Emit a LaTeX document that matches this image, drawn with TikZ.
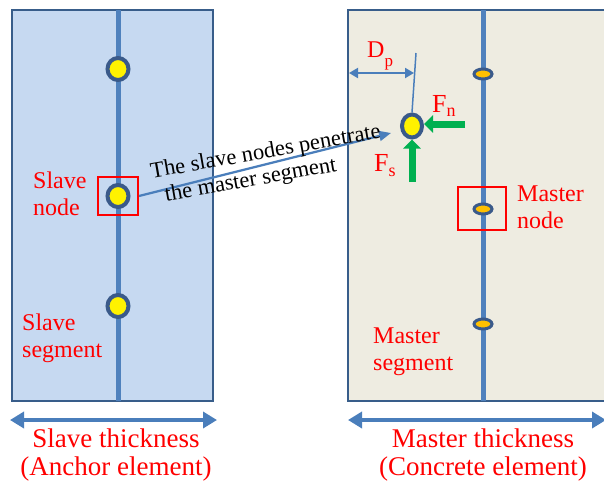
\documentclass[tikz,border=0pt]{standalone}
\usepackage{fontspec}
\setmainfont{Liberation Serif}
\usetikzlibrary{arrows.meta,calc,shapes.geometric}
\definecolor{slavefill}{HTML}{C6D9F1}
\definecolor{masterfill}{HTML}{EEECE1}
\definecolor{border}{HTML}{385D8A}
\definecolor{spinec}{HTML}{4F81BD}
\definecolor{arrowblue}{HTML}{4A7EBB}
\definecolor{nodering}{HTML}{3A5A8A}
\definecolor{orangefill}{HTML}{FFC000}
\definecolor{greenc}{HTML}{00B050}
\begin{document}
\begin{tikzpicture}[x=1pt,y=-1pt,
  panel/.style={draw=border,line width=2pt,inner sep=0pt,outer sep=0pt,anchor=north west},
  spine/.style={draw=spinec,line width=5pt},
  snode/.style={ellipse,draw=nodering,fill=yellow,line width=4pt,minimum width=21pt,minimum height=22pt,inner sep=0pt},
  mnode/.style={ellipse,draw=nodering,fill=orangefill,line width=3pt,minimum width=18pt,minimum height=10pt,inner sep=0pt},
  redbox/.style={draw=red,line width=2pt,inner sep=0pt,fill=none},
  lbl/.style={text=red,font=\fontsize{24}{27}\selectfont,align=left,anchor=base west,inner sep=0pt},
  biglbl/.style={text=red,font=\fontsize{27}{28}\selectfont,align=center,anchor=base,inner sep=0pt},
  dimarrow/.style={draw=arrowblue,line width=4pt,{Triangle[length=14pt,width=16pt]}-{Triangle[length=14pt,width=16pt]}},
  garrow/.style={draw=greenc,line width=7pt,-{Triangle[length=9pt,width=17pt]}},
]
\useasboundingbox (0,0) rectangle (604,485);
\clip (0,0) rectangle (604,485);
% panels
\node[panel,fill=slavefill,minimum width=201pt,minimum height=391pt] (slave) at (12,10) {};
\node[panel,fill=masterfill,minimum width=262pt,minimum height=391pt] (master) at (348,10) {};
\draw[spine] (118,10) -- (118,401);
\draw[spine] (483,10) -- (483,401);
% slave nodes
\node[snode] (s1) at (118,69) {};
\node[snode] (s2) at (118,196) {};
\node[snode] (s3) at (118,306) {};
\node[redbox,minimum width=40pt,minimum height=38pt] (sbox) at (118,196) {};
% master nodes
\node[mnode] (m1) at (483,74) {};
\node[mnode] (m2) at (483,209) {};
\node[mnode] (m3) at (483,324) {};
\node[redbox,minimum width=48pt,minimum height=43pt] (mbox) at (482,208.5) {};
% penetrating node
\node[snode,minimum width=20pt,minimum height=23pt] (pen) at (412,126) {};
\coordinate (dptop) at (416,53);
\draw[draw=arrowblue,line width=1.5pt] (dptop) -- (pen.north);
\coordinate (dpl) at (349,73);
\coordinate (dpr) at (414,73);
\draw[draw=arrowblue,line width=2pt,{Triangle[length=9pt,width=10pt]}-{Triangle[length=9pt,width=10pt]}] (dpl) -- (dpr);
\node[text=red,font=\fontsize{24}{24}\selectfont,anchor=base west,inner sep=0pt] (dp) at (367,57) {D\raisebox{-9pt}{\fontsize{17}{17}\selectfont p}};
% forces
\coordinate (fnstart) at (465,124);
\draw[garrow] (fnstart) -- (fnstart -| pen.east);
\coordinate (fsstart) at (412,182);
\draw[garrow] (fsstart) -- (pen.south);
\node[text=red,font=\fontsize{26}{26}\selectfont,anchor=base west,inner sep=0pt] (fn) at (432,112) {F\raisebox{-4pt}{\fontsize{18}{18}\selectfont n}};
\node[text=red,font=\fontsize{26}{26}\selectfont,anchor=base west,inner sep=0pt] (fs) at (374,171) {F\raisebox{-5pt}{\fontsize{18}{18}\selectfont s}};
% connector
\coordinate (ctip) at (391,133);
\draw[draw=arrowblue,line width=2.2pt,-{Triangle[length=12pt,width=10pt]}] (sbox.east) -- (ctip);
\node[font=\fontsize{22.5}{25}\selectfont,align=left,anchor=base west,inner sep=0pt,rotate=10] (ctext) at (156,203) {The slave nodes penetrate\\\hspace{0.45em}the master segment};
% labels
\node[lbl] (slavenode) at (33,215) {Slave\\node};
\node[lbl] (slaveseg) at (22,357) {Slave\\segment};
\node[lbl] (masternode) at (517,228) {Master\\node};
\node[lbl] (masterseg) at (373,370) {Master\\segment};
% thickness arrows
\coordinate (sl) at (10,420);
\coordinate (sr) at (217,420);
\draw[dimarrow] (sl) -- (sr);
\coordinate (ml) at (348,420);
\coordinate (mr) at (606,420);
\draw[dimarrow] (ml) -- (mr);
\node[biglbl] (slavethick) at (116,475) {Slave thickness\\(Anchor element)};
\node[biglbl] (masterthick) at (483,475) {Master thickness\\(Concrete element)};
\end{tikzpicture}
\end{document}
